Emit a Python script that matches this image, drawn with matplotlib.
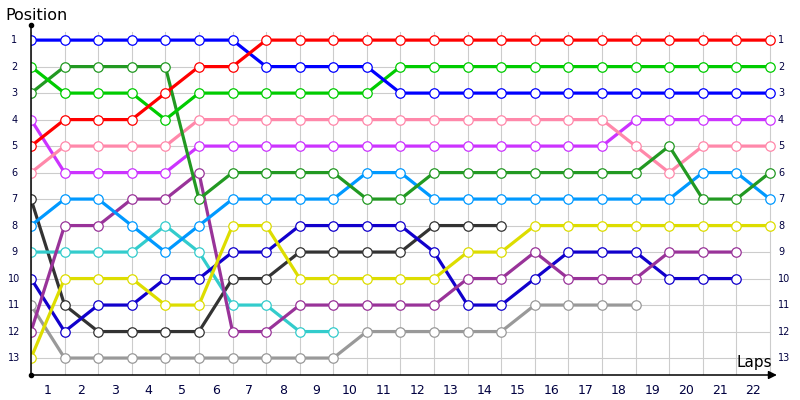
"""Lap chart: position of each car per lap."""

import matplotlib
matplotlib.use("Agg")
import matplotlib.pyplot as plt

laps = list(range(23))
lap_labels = [str(i) for i in range(1, 23)]
positions = list(range(1, 14))

# positions per lap (lap 0 = start); shorter lists = retired cars
red = [5, 4, 4, 4, 3, 2, 2, 1, 1, 1, 1, 1, 1, 1, 1, 1, 1, 1, 1, 1, 1, 1, 1]
blue = [1, 1, 1, 1, 1, 1, 1, 2, 2, 2, 2, 3, 3, 3, 3, 3, 3, 3, 3, 3, 3, 3, 3]
green = [2, 3, 3, 3, 4, 3, 3, 3, 3, 3, 3, 2, 2, 2, 2, 2, 2, 2, 2, 2, 2, 2, 2]
dark_green = [3, 2, 2, 2, 2, 7, 6, 6, 6, 6, 7, 7, 6, 6, 6, 6, 6, 6, 6, 5, 7, 7, 6]
pink = [6, 5, 5, 5, 5, 4, 4, 4, 4, 4, 4, 4, 4, 4, 4, 4, 4, 4, 5, 6, 5, 5, 5]
violet = [4, 6, 6, 6, 6, 5, 5, 5, 5, 5, 5, 5, 5, 5, 5, 5, 5, 5, 4, 4, 4, 4, 4]
light_blue = [8, 7, 7, 8, 9, 8, 7, 7, 7, 7, 6, 6, 7, 7, 7, 7, 7, 7, 7, 7, 6, 6, 7]
yellow = [13, 10, 10, 10, 11, 11, 8, 8, 10, 10, 10, 10, 10, 9, 9, 8, 8, 8, 8, 8, 8, 8, 8]
purple = [12, 8, 8, 7, 7, 6, 12, 12, 11, 11, 11, 11, 11, 10, 10, 9, 10, 10, 10, 9, 9, 9]
dark_blue = [10, 12, 11, 11, 10, 10, 9, 9, 8, 8, 8, 8, 9, 11, 11, 10, 9, 9, 9, 10, 10, 10]
gray = [11, 13, 13, 13, 13, 13, 13, 13, 13, 13, 12, 12, 12, 12, 12, 11, 11, 11, 11]
dark_gray = [7, 11, 12, 12, 12, 12, 10, 10, 9, 9, 9, 9, 8, 8, 8]
cyan = [9, 9, 9, 9, 8, 9, 11, 11, 12, 12]

series = [
    (gray, "#999999"),
    (dark_gray, "#333333"),
    (cyan, "#33cccc"),
    (dark_blue, "#1100cc"),
    (purple, "#993399"),
    (yellow, "#dddd00"),
    (light_blue, "#0099ff"),
    (violet, "#cc33ff"),
    (pink, "#ff88aa"),
    (dark_green, "#229922"),
    (green, "#00cc00"),
    (blue, "#0000ff"),
    (red, "#ff0000"),
]

X_MAX = 22.24
Y_TOP, Y_BOT = 0.43, 13.64
LABEL_COLOR = "#000040"

fig = plt.figure(figsize=(8, 4), dpi=100)
ax = fig.add_axes([31 / 800, 25 / 400, 747 / 800, 350 / 400])
ax.set_xlim(0, X_MAX)
ax.set_ylim(Y_BOT, Y_TOP)
for s in ax.spines.values():
    s.set_visible(False)
ax.set_xticks([])
ax.set_yticks([])

# grid
for x in laps:
    ax.plot([x, x], [0.7, Y_BOT], color="#cccccc", lw=0.8, zorder=1)
for y in positions:
    ax.plot([0, laps[-1]], [y, y], color="#cccccc", lw=0.8, zorder=1)

for vals, color in series:
    ax.plot(laps[:len(vals)], vals, color=color, lw=2.3, zorder=3,
            marker="o", markersize=6.8, markerfacecolor="white",
            markeredgecolor=color, markeredgewidth=0.9)

# axes with arrow and dots
ax.plot([0, 0], [Y_TOP, Y_BOT], color="black", lw=1.1, zorder=4, clip_on=False)
ax.annotate("", xy=(X_MAX + 0.05, Y_BOT), xytext=(0, Y_BOT),
            arrowprops=dict(arrowstyle="-|>", color="black", lw=1.1,
                            mutation_scale=12),
            annotation_clip=False, zorder=4)
ax.plot([0, 0], [Y_TOP, Y_BOT], "o", color="black", markersize=3,
        zorder=5, clip_on=False)

# labels
for p in positions:
    ax.text(-0.5, p, str(p), ha="center", va="center", fontsize=7,
            color=LABEL_COLOR, clip_on=False)
    ax.text(X_MAX, p, str(p), ha="left", va="center", fontsize=7,
            color=LABEL_COLOR, clip_on=False)
for i, lab in enumerate(lap_labels, start=1):
    ax.text(i - 0.5, Y_BOT + 0.6, lab, ha="center", va="center",
            fontsize=9, color=LABEL_COLOR, clip_on=False)

fig.text(5 / 800, 1 - 15 / 400, "Position", ha="left", va="center",
         fontsize=11.5, color="black")
fig.text(772 / 800, 1 - 370 / 400, "Laps", ha="right", va="bottom",
         fontsize=11, color="black")

fig.savefig("out.png", dpi=100)
